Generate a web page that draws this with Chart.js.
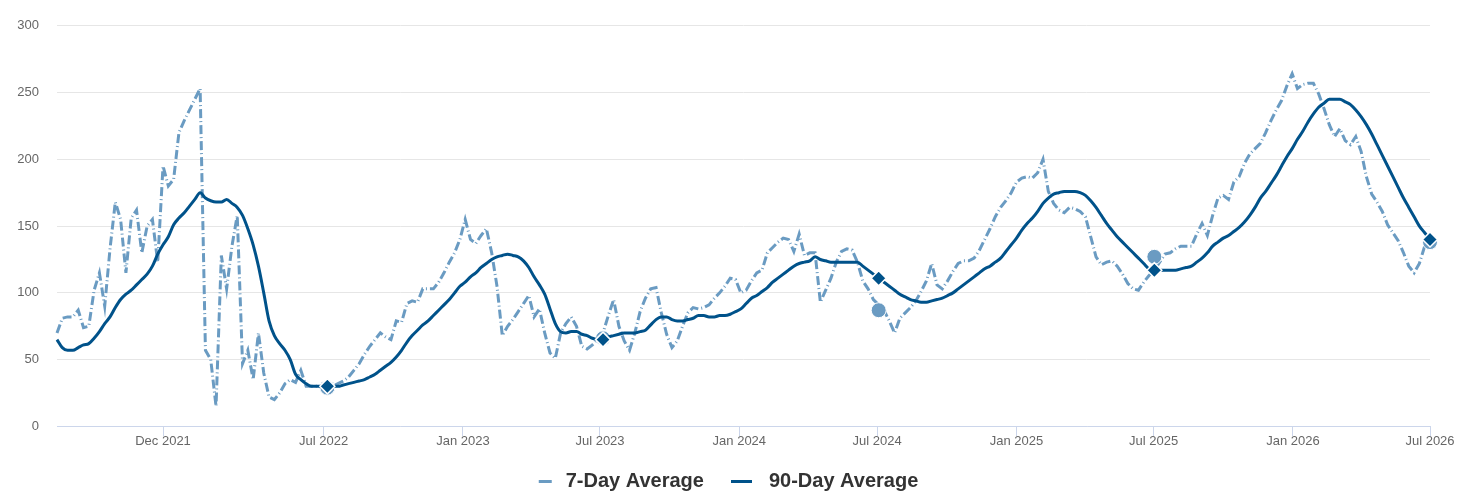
<!DOCTYPE html>
<html>
<head>
<meta charset="utf-8">
<script src="https://cdn.jsdelivr.net/npm/chart.js@4"></script>
<style>
  html, body { margin: 0; padding: 0; background: #fff; }
  #wrap { width: 1464px; height: 501px; }
</style>
</head>
<body>
<div id="wrap"><canvas id="myChart" width="1464" height="501"></canvas></div>
<script>
// weekly readings, first week starts 2021-07-14
const startDate = '2021-07-14';

const sevenDay = [
  70, 81, 82, 82, 87, 74, 75, 102, 115, 90,
  133, 168, 155, 115, 156, 162, 130, 150, 155, 123,
  195, 180, 185, 220, 229, 237, 245, 253, 57, 50,
  15, 128, 103, 135, 158, 47, 57, 35, 70, 40,
  22, 20, 25, 32, 35, 33, 42, 30, 30, 30,
  29, 29, 30, 32, 34, 37, 42, 47, 54, 60,
  65, 70, 67, 65, 79, 78, 92, 94, 93, 103,
  103, 103, 108, 115, 123, 130, 140, 155, 140, 137,
  143, 148, 130, 105, 68, 75, 80, 86, 92, 98,
  82, 88, 70, 55, 51, 70, 77, 82, 75, 60,
  58, 61, 65, 70, 83, 95, 75, 64, 57, 70,
  86, 96, 103, 104, 85, 69, 59, 64, 75, 85,
  89, 88, 89, 91, 96, 100, 105, 111, 110, 100,
  102, 109, 115, 117, 130, 134, 138, 141, 140, 131,
  144, 128, 130, 130, 93, 102, 111, 123, 131, 133,
  132, 123, 109, 103, 95, 91, 87, 79, 70, 81,
  85, 89, 94, 101, 109, 122, 106, 103, 109, 116,
  122, 124, 124, 126, 132, 140, 148, 157, 164, 169,
  175, 183, 186, 187, 186, 190, 200, 176, 167, 162,
  160, 164, 163, 161, 157, 142, 127, 121, 123, 124,
  120, 114, 107, 103, 102, 108, 113, 117, 123, 129,
  130, 133, 135, 135, 135, 144, 152, 143, 158, 171,
  173, 170, 183, 187, 197, 204, 208, 212, 220, 229,
  237, 244, 255, 264, 253, 256, 257, 257, 249, 238,
  226, 217, 223, 214, 211, 217, 206, 187, 174, 168,
  161, 151, 145, 139, 130, 120, 115, 122, 135, 140
];

const ninetyDay = [
  65, 59, 57, 57, 59, 61, 62, 66, 71, 77,
  82, 89, 95, 99, 102, 106, 110, 114, 120, 129,
  136, 142, 151, 156, 160, 165, 170, 175, 171, 169,
  168, 168, 170, 167, 164, 158, 148, 136, 120, 100,
  79, 68, 62, 57, 50, 39, 35, 32, 30, 30,
  30, 30, 30, 30, 31, 32, 33, 34, 35, 37,
  39, 42, 45, 48, 52, 57, 63, 68, 72, 76,
  79, 83, 87, 91, 95, 100, 105, 108, 112, 115,
  119, 122, 125, 127, 128, 129, 128, 127, 124, 119,
  112, 106, 99, 88, 77, 71, 70, 71, 71, 69,
  68, 66, 65, 65, 67, 68, 69, 70, 70, 70,
  71, 72, 76, 80, 82, 82, 80, 79, 79, 80,
  81, 83, 83, 82, 82, 83, 83, 84, 86, 88,
  92, 96, 98, 101, 104, 108, 111, 114, 117, 120,
  122, 123, 124, 127, 125, 124, 123, 123, 123, 123,
  123, 123, 120, 117, 114, 111, 108, 105, 102, 99,
  97, 95, 94, 93, 93, 94, 95, 96, 98, 100,
  103, 106, 109, 112, 115, 118, 120, 123, 126, 131,
  136, 141, 147, 152, 156, 161, 167, 171, 174, 175,
  176, 176, 176, 175, 173, 169, 164, 158, 152, 147,
  142, 138, 134, 130, 126, 122, 118, 117, 117, 117,
  117, 117, 118, 119, 120, 123, 126, 130, 135, 138,
  141, 143, 146, 149, 153, 158, 164, 171, 176, 182,
  188, 195, 202, 208, 215, 221, 228, 234, 239, 242,
  245, 245, 245, 243, 241, 237, 232, 226, 219, 211,
  203, 195, 187, 179, 171, 164, 157, 150, 145, 140
];

// early-July snapshots (week index) and the 7-day value recorded for them
const markWeeks = [51, 103, 155, 207, 259];
const sevenDayMarks = [29, 66, 87, 127, 138];

const tickDates = ['2021-12-01', '2022-07-01', '2023-01-01', '2023-07-01', '2024-01-01',
  '2024-07-01', '2025-01-01', '2025-07-01', '2026-01-01', '2026-07-01'];
const tickLabels = ['Dec 2021', 'Jul 2022', 'Jan 2023', 'Jul 2023', 'Jan 2024',
  'Jul 2024', 'Jan 2025', 'Jul 2025', 'Jan 2026', 'Jul 2026'];
const yTicks = [0, 50, 100, 150, 200, 250, 300];

const DAY = 86400000;
const t0 = Date.parse(startDate);
const weeks = sevenDay.map((v, i) => t0 + i * 7 * DAY);

const lightBlue = '#6a9bc2';
const darkBlue = '#00528a';

// legend symbol: a short bar drawn inside a 30px wide box
function legendSwatch(color, from, to) {
  const c = document.createElement('canvas');
  c.width = 30;
  c.height = 3;
  const g = c.getContext('2d');
  g.fillStyle = color;
  g.fillRect(from, 0, to - from, 3);
  return c;
}
const swatch7 = legendSwatch(lightBlue, 13, 26);
const swatch90 = legendSwatch(darkBlue, 2, 23);

Chart.defaults.font.family = "'Liberation Sans', Arial, sans-serif";

const ctx = document.getElementById('myChart').getContext('2d');
const myChart = new Chart(ctx, {
  type: 'line',
  data: {
    datasets: [{
      label: '90-Day Average',
      data: ninetyDay.map((v, i) => ({ x: weeks[i], y: v })),
      borderColor: darkBlue,
      backgroundColor: darkBlue,
      borderWidth: 3,
      cubicInterpolationMode: 'monotone',
      borderJoinStyle: 'round',
      pointStyle: 'rectRot',
      pointRadius: c => markWeeks.includes(c.dataIndex) ? 7.5 : 0,
      pointBackgroundColor: darkBlue,
      pointBorderColor: '#ffffff',
      pointBorderWidth: 1.5,
      clip: false,
      order: 0
    }, {
      label: 'Marks',
      type: 'scatter',
      data: markWeeks.map((w, i) => ({ x: weeks[w], y: sevenDayMarks[i] })),
      backgroundColor: lightBlue,
      borderColor: '#ffffff',
      borderWidth: 1,
      pointRadius: 7.5,
      clip: false,
      order: 1
    }, {
      label: '7-Day Average',
      data: sevenDay.map((v, i) => ({ x: weeks[i], y: v })),
      borderColor: lightBlue,
      backgroundColor: lightBlue,
      borderWidth: 3,
      borderDash: [9, 3, 1, 3],
      tension: 0,
      pointRadius: 0,
      clip: false,
      order: 2
    }]
  },
  options: {
    responsive: false,
    animation: false,
    layout: { padding: { top: 25, right: 34, left: 14, bottom: 0 } },
    plugins: {
      tooltip: { enabled: false },
      legend: {
        position: 'bottom',
        labels: {
          usePointStyle: true,
          pointStyleWidth: 30,
          padding: 25,
          color: '#333333',
          font: { size: 20, weight: 'bold' },
          generateLabels: () => [
            { text: '7-Day Average', pointStyle: swatch7, datasetIndex: 2, fontColor: '#333333', lineWidth: 0, strokeStyle: 'transparent', fillStyle: lightBlue },
            { text: '90-Day Average', pointStyle: swatch90, datasetIndex: 0, fontColor: '#333333', lineWidth: 0, strokeStyle: 'transparent', fillStyle: darkBlue }
          ]
        }
      }
    },
    scales: {
      x: {
        type: 'linear',
        min: weeks[0],
        max: weeks[weeks.length - 1],
        afterBuildTicks: scale => {
          scale.ticks = tickDates.map(d => ({ value: Date.parse(d) }));
        },
        ticks: {
          autoSkip: false,
          maxRotation: 0,
          padding: -3,
          color: '#666666',
          font: { size: 13 },
          callback: (v, i) => tickLabels[i]
        },
        grid: { drawOnChartArea: false, drawTicks: true, tickLength: 10, color: '#ccd6eb' },
        border: { color: '#ccd6eb', width: 1 }
      },
      y: {
        min: 0,
        max: 300,
        afterBuildTicks: scale => {
          scale.ticks = yTicks.map(v => ({ value: v }));
        },
        afterFit: scale => { scale.width = 43; },
        ticks: { padding: 18, color: '#666666', font: { size: 13 } },
        grid: { color: '#e6e6e6', drawTicks: false },
        border: { display: false }
      }
    }
  }
});
</script>
</body>
</html>
